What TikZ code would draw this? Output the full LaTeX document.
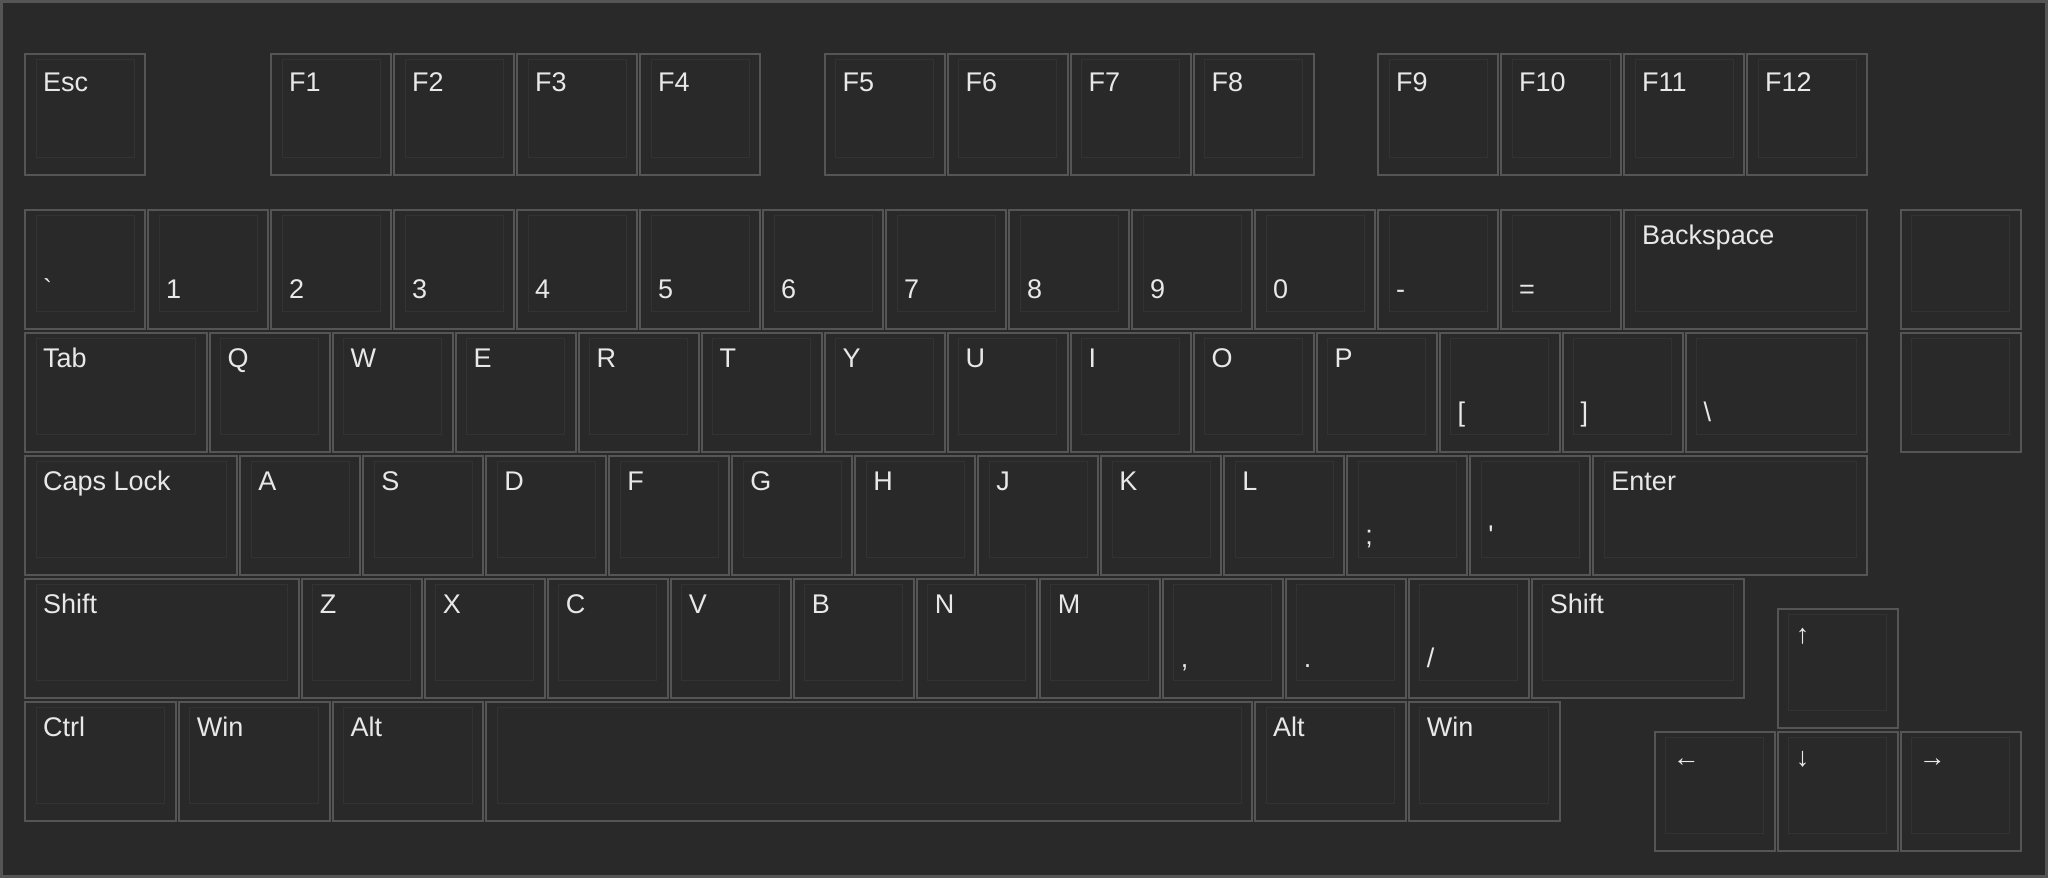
\documentclass[tikz,border=0pt]{standalone}
\usepackage{fontspec}
\newfontfamily\kf{Liberation Sans}
\definecolor{bg}{HTML}{292929}
\definecolor{kborder}{HTML}{555555}
\definecolor{kinner}{HTML}{333333}
\definecolor{ktext}{HTML}{E8E8E8}
\tikzset{
  keybox/.style={draw=kborder, line width=2pt, fill=bg, rectangle, inner sep=0pt, anchor=north west},
  keyinner/.style={draw=kinner, line width=1pt},
  keylab/.style={text=ktext, font=\kf\fontsize{27}{30}\selectfont, inner sep=0pt, anchor=base west},
}
\def\toplaboff{35}
% #1 name, #2 column (units), #3 top y (px), #4 width (units), #5 height (px), #6 top label, #7 bottom label
\newcommand\kbkey[7]{%
  \pgfmathsetmacro\kx{23+#2*123+1}%
  \pgfmathsetmacro\kw{#4*123-3}%
  \node[keybox, minimum width=\kw pt, minimum height=#5pt] (#1) at (\kx,#3) {};
  \draw[keyinner] ([xshift=12pt,yshift=-6pt]#1.north west) rectangle ([xshift=-12pt,yshift=19pt]#1.south east);
  \if\relax\detokenize{#6}\relax\else
    \node[keylab] (#1-t) at ([xshift=19pt,yshift=-\toplaboff pt]#1.north west) {#6};
  \fi
  \if\relax\detokenize{#7}\relax\else
    \node[keylab] (#1-b) at ([xshift=19pt,yshift=-89pt]#1.north west) {#7};
  \fi
}
\begin{document}
\begin{tikzpicture}[x=1pt,y=-1pt]
\useasboundingbox (0,0) rectangle (2048,878);
\fill[bg] (0,0) rectangle (2048,878);
\draw[kborder, line width=3pt] (1.5,1.5) rectangle (2046.5,876.5);
% Function row
\def\toplaboff{38}
\kbkey{kEsc}{0}{53}{1}{121}{Esc}{}
\kbkey{kF1}{2}{53}{1}{121}{F1}{}
\kbkey{kF2}{3}{53}{1}{121}{F2}{}
\kbkey{kF3}{4}{53}{1}{121}{F3}{}
\kbkey{kF4}{5}{53}{1}{121}{F4}{}
\kbkey{kF5}{6.5}{53}{1}{121}{F5}{}
\kbkey{kF6}{7.5}{53}{1}{121}{F6}{}
\kbkey{kF7}{8.5}{53}{1}{121}{F7}{}
\kbkey{kF8}{9.5}{53}{1}{121}{F8}{}
\kbkey{kF9}{11}{53}{1}{121}{F9}{}
\kbkey{kF10}{12}{53}{1}{121}{F10}{}
\kbkey{kF11}{13}{53}{1}{121}{F11}{}
\kbkey{kF12}{14}{53}{1}{121}{F12}{}
\def\toplaboff{35}
% Number row
\kbkey{kGrave}{0}{209}{1}{119}{}{`}
\kbkey{k1}{1}{209}{1}{119}{}{1}
\kbkey{k2}{2}{209}{1}{119}{}{2}
\kbkey{k3}{3}{209}{1}{119}{}{3}
\kbkey{k4}{4}{209}{1}{119}{}{4}
\kbkey{k5}{5}{209}{1}{119}{}{5}
\kbkey{k6}{6}{209}{1}{119}{}{6}
\kbkey{k7}{7}{209}{1}{119}{}{7}
\kbkey{k8}{8}{209}{1}{119}{}{8}
\kbkey{k9}{9}{209}{1}{119}{}{9}
\kbkey{k0}{10}{209}{1}{119}{}{0}
\kbkey{kMinus}{11}{209}{1}{119}{}{-}
\kbkey{kEqual}{12}{209}{1}{119}{}{=}
\kbkey{kBack}{13}{209}{2}{119}{Backspace}{}
\kbkey{kSide1}{15.25}{209}{1}{119}{}{}
% Tab row
\kbkey{kTab}{0}{332}{1.5}{119}{Tab}{}
\kbkey{kQ}{1.5}{332}{1}{119}{Q}{}
\kbkey{kW}{2.5}{332}{1}{119}{W}{}
\kbkey{kE}{3.5}{332}{1}{119}{E}{}
\kbkey{kR}{4.5}{332}{1}{119}{R}{}
\kbkey{kT}{5.5}{332}{1}{119}{T}{}
\kbkey{kY}{6.5}{332}{1}{119}{Y}{}
\kbkey{kU}{7.5}{332}{1}{119}{U}{}
\kbkey{kI}{8.5}{332}{1}{119}{I}{}
\kbkey{kO}{9.5}{332}{1}{119}{O}{}
\kbkey{kP}{10.5}{332}{1}{119}{P}{}
\kbkey{kLBr}{11.5}{332}{1}{119}{}{[}
\kbkey{kRBr}{12.5}{332}{1}{119}{}{]}
\kbkey{kBSl}{13.5}{332}{1.5}{119}{}{\textbackslash}
\kbkey{kSide2}{15.25}{332}{1}{119}{}{}
% Caps row
\kbkey{kCaps}{0}{455}{1.75}{119}{Caps Lock}{}
\kbkey{kA}{1.75}{455}{1}{119}{A}{}
\kbkey{kS}{2.75}{455}{1}{119}{S}{}
\kbkey{kD}{3.75}{455}{1}{119}{D}{}
\kbkey{kF}{4.75}{455}{1}{119}{F}{}
\kbkey{kG}{5.75}{455}{1}{119}{G}{}
\kbkey{kH}{6.75}{455}{1}{119}{H}{}
\kbkey{kJ}{7.75}{455}{1}{119}{J}{}
\kbkey{kK}{8.75}{455}{1}{119}{K}{}
\kbkey{kL}{9.75}{455}{1}{119}{L}{}
\kbkey{kSemi}{10.75}{455}{1}{119}{}{;}
\kbkey{kQuote}{11.75}{455}{1}{119}{}{'}
\kbkey{kEnter}{12.75}{455}{2.25}{119}{Enter}{}
% Shift row
\kbkey{kLShift}{0}{578}{2.25}{119}{Shift}{}
\kbkey{kZ}{2.25}{578}{1}{119}{Z}{}
\kbkey{kX}{3.25}{578}{1}{119}{X}{}
\kbkey{kC}{4.25}{578}{1}{119}{C}{}
\kbkey{kV}{5.25}{578}{1}{119}{V}{}
\kbkey{kB}{6.25}{578}{1}{119}{B}{}
\kbkey{kN}{7.25}{578}{1}{119}{N}{}
\kbkey{kM}{8.25}{578}{1}{119}{M}{}
\kbkey{kComma}{9.25}{578}{1}{119}{}{,}
\kbkey{kDot}{10.25}{578}{1}{119}{}{.}
\kbkey{kSlash}{11.25}{578}{1}{119}{}{/}
\kbkey{kRShift}{12.25}{578}{1.75}{119}{Shift}{}
\kbkey{kUp}{14.25}{608}{1}{119}{↑}{}
% Bottom row
\kbkey{kLCtrl}{0}{701}{1.25}{119}{Ctrl}{}
\kbkey{kLWin}{1.25}{701}{1.25}{119}{Win}{}
\kbkey{kLAlt}{2.5}{701}{1.25}{119}{Alt}{}
\kbkey{kSpace}{3.75}{701}{6.25}{119}{}{}
\kbkey{kRAlt}{10}{701}{1.25}{119}{Alt}{}
\kbkey{kRWin}{11.25}{701}{1.25}{119}{Win}{}
\kbkey{kLeft}{13.25}{731}{1}{119}{←}{}
\kbkey{kDown}{14.25}{731}{1}{119}{↓}{}
\kbkey{kRight}{15.25}{731}{1}{119}{→}{}
\end{tikzpicture}
\end{document}
